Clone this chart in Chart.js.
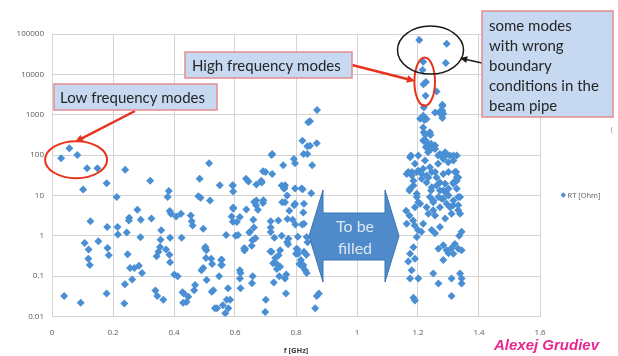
<!DOCTYPE html>
<html>
<head>
<meta charset="utf-8">
<script src="https://cdn.jsdelivr.net/npm/chart.js@4"></script>
<style>
  html, body { margin: 0; padding: 0; background: #ffffff; overflow: hidden; }
  #wrap { position: relative; width: 618px; height: 356px; }
</style>
</head>
<body>
<div id="wrap"><canvas id="c" width="618" height="356"></canvas></div>
<script>
// Frequency [GHz] and transverse impedance RT [Ohm] of the computed modes, grouped by band.
const lowBand = [
  [0.057,147],[0.030,83],[0.083,101],[0.115,47],[0.149,47],[0.240,43],[0.179,20],[0.102,14],
  [0.322,23],[0.383,12.8],[0.379,9.1],[0.212,9.1],[0.280,4.4],[0.253,2.8],[0.252,2.4],[0.291,2.5],
  [0.326,2.7],[0.386,4.1],[0.390,3.5],[0.407,3.0],[0.423,3.5],[0.126,2.3],[0.181,1.65],[0.215,1.65],
  [0.216,1.07],[0.245,1.2],[0.290,0.92],[0.358,1.38],[0.356,0.8],[0.387,0.89],[0.425,0.89],[0.152,0.73],
  [0.107,0.66],[0.120,0.46],[0.182,0.50],[0.186,0.33],[0.119,0.27],[0.124,0.19],[0.248,0.35],[0.354,0.53],
  [0.349,0.40],[0.343,0.31],[0.374,0.46],[0.385,0.34],[0.387,0.22],[0.256,0.16],[0.270,0.16],[0.285,0.18],
  [0.295,0.12],[0.401,0.11],[0.412,0.10],[0.239,0.063],[0.263,0.083],[0.339,0.044],[0.345,0.032],[0.365,0.026],
  [0.040,0.032],[0.094,0.022],[0.179,0.037],[0.237,0.021],[0.428,0.040],[0.430,0.022],[0.441,0.023],[0.432,0.037],
  [0.447,0.031]
];
const midBand = [
  [0.869,1306],[0.846,684],[0.840,650],[0.821,228],[0.868,195],[0.846,169],[0.837,165],[0.825,107],[0.837,107],
  [0.853,56],[0.793,80],[0.797,63],[0.758,56],[0.722,107],[0.692,40],[0.722,34],[0.686,23],[0.670,18.7],
  [0.636,26],[0.644,22],[0.593,18],[0.594,12.6],[0.515,63],[0.550,18],[0.484,26],[0.480,9.6],[0.487,8.8],
  [0.518,7.5],[0.753,17.7],[0.762,15.5],[0.771,10],[0.822,14.3],[0.850,11.4],[0.755,6.8],[0.794,5.7],
  [0.670,7.5],[0.692,6.5],[0.669,5.7],[0.675,4.4],[0.637,4.5],[0.594,4.7],[0.616,2.9],[0.589,3.0],
  [0.593,2.24],[0.660,2.5],[0.662,1.6],[0.647,1.2],[0.667,0.87],[0.655,0.57],[0.630,0.49],[0.631,0.43],
  [0.610,1.05],[0.571,1.05],[0.496,1.5],[0.503,0.53],[0.506,0.44],[0.505,0.28],[0.522,0.27],[0.525,0.20],
  [0.556,0.26],[0.557,0.19],[0.496,0.16],[0.490,0.14],[0.717,2.3],[0.717,1.6],[0.729,0.90],[0.772,2.6],
  [0.778,4.2],[0.798,1.9],[0.820,1.9],[0.806,0.95],[0.771,0.70],[0.774,0.62],[0.838,0.69],[0.805,0.46],
  [0.800,0.36],[0.816,0.25],[0.811,0.20],[0.822,0.17],[0.835,0.12],[0.834,0.34],[0.716,0.41],[0.743,0.33],
  [0.732,0.28],[0.725,0.21],[0.737,0.15],[0.745,0.10],[0.768,0.11],[0.727,0.07],[0.767,0.037],[0.658,0.10],
  [0.656,0.067],[0.616,0.14],[0.618,0.12],[0.618,0.05],[0.577,0.05],[0.584,0.026],[0.578,0.016],[0.541,0.016],
  [0.568,0.012],[0.701,0.026],[0.699,0.013],[0.863,0.016],[0.868,0.032],[0.875,0.037],[0.469,0.06],[0.466,0.045],
  [0.573,0.026],[0.507,0.08],[0.529,0.045],[0.548,0.10],[0.455,3.2],[0.458,2.3],[0.461,1.8],[0.502,0.49],
  [0.524,0.041],[0.534,0.016],[0.560,0.019],[0.555,0.25],[0.555,0.19],[0.602,1.0],[0.606,2.2],[0.594,5.0],
  [0.592,17.6],[0.616,0.088],[0.663,6.9],[0.649,1.25],[0.657,0.77],[0.633,0.48],[0.693,7.6],[0.688,21],
  [0.700,38],[0.717,1.24],[0.720,0.40],[0.737,0.20],[0.764,18],[0.761,14.7],[0.764,6.8],[0.742,2.4],
  [0.753,1.0],[0.748,0.44],[0.748,0.17],[0.764,0.088],[0.775,0.85],[0.789,2.5],[0.797,6.2],[0.797,14.8],
  [0.802,0.48],[0.807,0.36],[0.818,14.8],[0.826,6.2],[0.824,3.8],[0.826,2.0],[0.835,0.93],[0.826,0.40],
  [0.824,0.19],[0.830,0.14],[0.720,101]
];
const highBand = [
  [1.204,71000],[1.294,57500],[1.291,19200],[1.217,20400],[1.215,12900],[1.226,6500],[1.218,5700],
  [1.225,2950],[1.261,3760],[1.219,1500],[1.280,1770],[1.280,1250],[1.272,1080],[1.217,944],[1.228,784],
  [1.280,830],[1.207,790],[1.219,366],[1.241,316],[1.226,228],[1.228,162],[1.254,172],[1.233,117],
  [1.177,97],[1.282,88],[1.293,102],[1.316,97],[1.217,485],[1.224,320],[1.239,366],[1.226,156],
  [1.256,142],[1.174,88],[1.201,97],[1.266,97],[1.288,105],[1.280,1650],[1.272,1200],[1.256,1130],
  [1.283,1050],[1.221,740],[1.217,230],[1.243,190],
  [1.229,189],[1.243,142],[1.256,172],[1.272,107],[1.289,117],[1.305,97],[1.316,73],[1.299,66],
  [1.283,80],[1.327,97],[1.223,73],[1.190,61],[1.163,34],[1.180,38],[1.201,41],[1.217,46],[1.239,50],
  [1.256,38],[1.234,28],[1.212,26],[1.185,23],[1.272,21],[1.289,19.5],[1.316,21],[1.332,28],[1.321,38],
  [1.266,61],[1.174,14.6],[1.196,11],[1.243,13.3],[1.272,13.3],[1.294,11],[1.327,14.6],[1.338,9.1],
  [1.278,8.3],[1.207,6.2],[1.250,6.8],[1.305,5.1],[1.332,5.7],[1.190,5.1],
  [1.168,38],[1.180,31],[1.196,38],[1.212,34],[1.228,31],[1.245,38],[1.261,28],[1.283,34],[1.300,38],
  [1.325,38],[1.327,28],[1.172,13.3],[1.185,17.6],[1.196,9.1],[1.201,6.8],[1.161,4.2],[1.172,3.2],
  [1.184,2.4],[1.163,2.0],[1.189,1.8],[1.200,1.4],[1.211,1.25],[1.196,0.93],[1.185,0.52],[1.174,0.36],
  [1.168,0.23],[1.190,0.27],[1.179,0.14],[1.174,0.088],[1.201,0.088],[1.185,0.029],[1.190,0.025],
  [1.228,21],[1.245,16],[1.261,17.6],[1.283,13.3],[1.300,14.6],[1.316,19.5],[1.327,23],[1.239,9.1],
  [1.250,7.5],[1.267,9.1],[1.283,8.3],[1.300,10],[1.316,7.5],[1.332,9.1],[1.228,5.1],[1.250,4.3],
  [1.272,5.1],[1.294,6.2],[1.316,5.7],[1.332,4.3],[1.234,3.5],[1.256,3.2],[1.289,2.7],[1.310,3.5],
  [1.338,3.5],[1.217,2.0],[1.245,1.4],[1.256,1.15],[1.272,1.65],[1.343,1.25],[1.335,1.0],[1.267,0.48],
  [1.283,0.58],[1.294,0.44],[1.310,0.5],[1.321,0.63],[1.332,0.48],[1.343,0.44],[1.316,0.36],[1.300,0.37],
  [1.283,0.25],[1.250,0.117],[1.267,0.066],[1.310,0.088],[1.338,0.117],[1.343,0.088],[1.343,0.066],
  [1.310,0.032]
];

const xTicks = [0, 0.2, 0.4, 0.6, 0.8, 1, 1.2, 1.4, 1.6];
const yTicks = [0.01, 0.1, 1, 10, 100, 1000, 10000, 100000];

const seriesName = 'RT [Ohm]';
const xTitle = 'f [GHz]';
const markColor = '#4a8fd3';

const points = lowBand.concat(midBand, highBand).map(([f, r]) => ({ x: f, y: r }));

function ellipse(ctx, cx, cy, rx, ry, color, lw) {
  ctx.beginPath();
  ctx.ellipse(cx, cy, rx, ry, 0, 0, Math.PI * 2);
  ctx.strokeStyle = color;
  ctx.lineWidth = lw;
  ctx.stroke();
}

function arrow(ctx, x1, y1, x2, y2, color, lw, head) {
  const a = Math.atan2(y2 - y1, x2 - x1);
  const bx = x2 - Math.cos(a) * head * 0.8, by = y2 - Math.sin(a) * head * 0.8;
  ctx.beginPath();
  ctx.moveTo(x1, y1);
  ctx.lineTo(bx, by);
  ctx.strokeStyle = color;
  ctx.lineWidth = lw;
  ctx.stroke();
  ctx.beginPath();
  ctx.moveTo(x2, y2);
  ctx.lineTo(x2 - Math.cos(a - 0.45) * head, y2 - Math.sin(a - 0.45) * head);
  ctx.lineTo(x2 - Math.cos(a + 0.45) * head, y2 - Math.sin(a + 0.45) * head);
  ctx.closePath();
  ctx.fillStyle = color;
  ctx.fill();
}

function noteBox(ctx, x, y, w, h, lines, tx, ty0, lh) {
  ctx.fillStyle = '#c6d9f1';
  ctx.fillRect(x, y, w, h);
  ctx.strokeStyle = '#e58c8f';
  ctx.lineWidth = 1.5;
  ctx.strokeRect(x, y, w, h);
  ctx.fillStyle = '#262626';
  ctx.font = '15px Lato';
  ctx.textAlign = 'left';
  ctx.textBaseline = 'middle';
  lines.forEach((t, i) => ctx.fillText(t, tx, ty0 + i * lh));
}

const callouts = {
  id: 'callouts',
  afterDatasetsDraw(chart) {
    const { ctx, scales: { x, y } } = chart;
    ctx.save();

    // "To be filled" double arrow across the gap in the spectrum
    ctx.beginPath();
    ctx.moveTo(309, 236);
    ctx.lineTo(323, 190);
    ctx.lineTo(323, 213);
    ctx.lineTo(385, 213);
    ctx.lineTo(385, 190);
    ctx.lineTo(399, 236);
    ctx.lineTo(385, 282);
    ctx.lineTo(385, 260);
    ctx.lineTo(323, 260);
    ctx.lineTo(323, 282);
    ctx.closePath();
    ctx.fillStyle = '#4f8bca';
    ctx.fill();
    ctx.strokeStyle = '#3b74b0';
    ctx.lineWidth = 1;
    ctx.stroke();
    ctx.fillStyle = '#dde7f3';
    ctx.font = '16px Lato';
    ctx.textAlign = 'center';
    ctx.textBaseline = 'middle';
    ctx.fillText('To be', 355, 227);
    ctx.fillText('filled', 355, 249);

    // circled groups of modes
    ellipse(ctx, x.getPixelForValue(0.079), y.getPixelForValue(77), 31, 18.5, '#e8341f', 2);
    ellipse(ctx, x.getPixelForValue(1.222), y.getPixelForValue(6600), 10.3, 24.2, '#e8341f', 2);
    ellipse(ctx, x.getPixelForValue(1.241), y.getPixelForValue(40000), 33, 24, '#1a1a1a', 1.5);

    // labels and pointers
    arrow(ctx, 135, 111, 75, 142, '#e8341f', 2.5, 9);
    arrow(ctx, 352, 65, 415, 81, '#e8341f', 2.5, 9);
    arrow(ctx, 482, 63, 460, 58, '#1a1a1a', 1.5, 8);

    noteBox(ctx, 54, 84, 163, 26, ['Low frequency modes'], 60, 98.5, 0);
    noteBox(ctx, 185, 52, 167, 26, ['High frequency modes'], 192, 66, 0);
    noteBox(ctx, 482, 11, 131, 106,
      ['some modes', 'with wrong', 'boundary', 'conditions in the', 'beam pipe'], 489, 26, 20);

    // legend
    ctx.beginPath();
    ctx.moveTo(563.3, 192.3);
    ctx.lineTo(566, 195);
    ctx.lineTo(563.3, 197.7);
    ctx.lineTo(560.6, 195);
    ctx.closePath();
    ctx.fillStyle = markColor;
    ctx.fill();
    ctx.fillStyle = '#595959';
    ctx.font = '7.5px "Open Sans"';
    ctx.textAlign = 'left';
    ctx.textBaseline = 'middle';
    ctx.fillText(seriesName, 567.5, 195.5);

    ctx.fillStyle = '#7d98c4';
    ctx.font = '8px "Open Sans"';
    ctx.fillText('(', 610.5, 130);

    // author
    ctx.fillStyle = '#e8288f';
    ctx.font = 'italic bold 15px "Liberation Sans"';
    ctx.textAlign = 'left';
    ctx.textBaseline = 'alphabetic';
    ctx.fillText('Alexej Grudiev', 494, 350);

    ctx.restore();
  }
};

new Chart(document.getElementById('c'), {
  type: 'scatter',
  data: {
    datasets: [{
      label: seriesName,
      data: points,
      pointStyle: 'rectRot',
      pointRadius: 4,
      pointHoverRadius: 4,
      backgroundColor: markColor,
      borderColor: markColor,
      borderWidth: 0
    }]
  },
  options: {
    responsive: false,
    animation: false,
    devicePixelRatio: 1,
    layout: { padding: { top: 34, right: 78, bottom: 0, left: 0 } },
    plugins: {
      legend: { display: false },
      tooltip: { enabled: false }
    },
    scales: {
      x: {
        type: 'linear',
        min: 0,
        max: 1.6,
        afterBuildTicks: (axis) => { axis.ticks = xTicks.map(v => ({ value: v })); },
        afterFit: (axis) => { axis.height = 39.5; },
        ticks: {
          callback: (v) => String(v),
          color: '#595959',
          font: { family: 'Open Sans', size: 8 },
          padding: 11,
          maxRotation: 0
        },
        grid: { color: '#d4d4d4', lineWidth: 1, drawTicks: false },
        border: { color: '#d4d4d4' },
        title: {
          display: true,
          text: xTitle,
          color: '#404040',
          font: { family: 'Open Sans', size: 7.5, weight: 'bold' },
          padding: { top: 0, bottom: 1 }
        }
      },
      y: {
        type: 'logarithmic',
        min: 0.01,
        max: 100000,
        afterBuildTicks: (axis) => { axis.ticks = yTicks.map(v => ({ value: v })); },
        afterFit: (axis) => { axis.width = 52; },
        ticks: {
          callback: (v) => String(v),
          color: '#595959',
          font: { family: 'Open Sans', size: 8 },
          padding: 8
        },
        grid: { color: '#d4d4d4', lineWidth: 1, drawTicks: false },
        border: { color: '#d4d4d4' }
      }
    }
  },
  plugins: [callouts]
});
</script>
</body>
</html>
